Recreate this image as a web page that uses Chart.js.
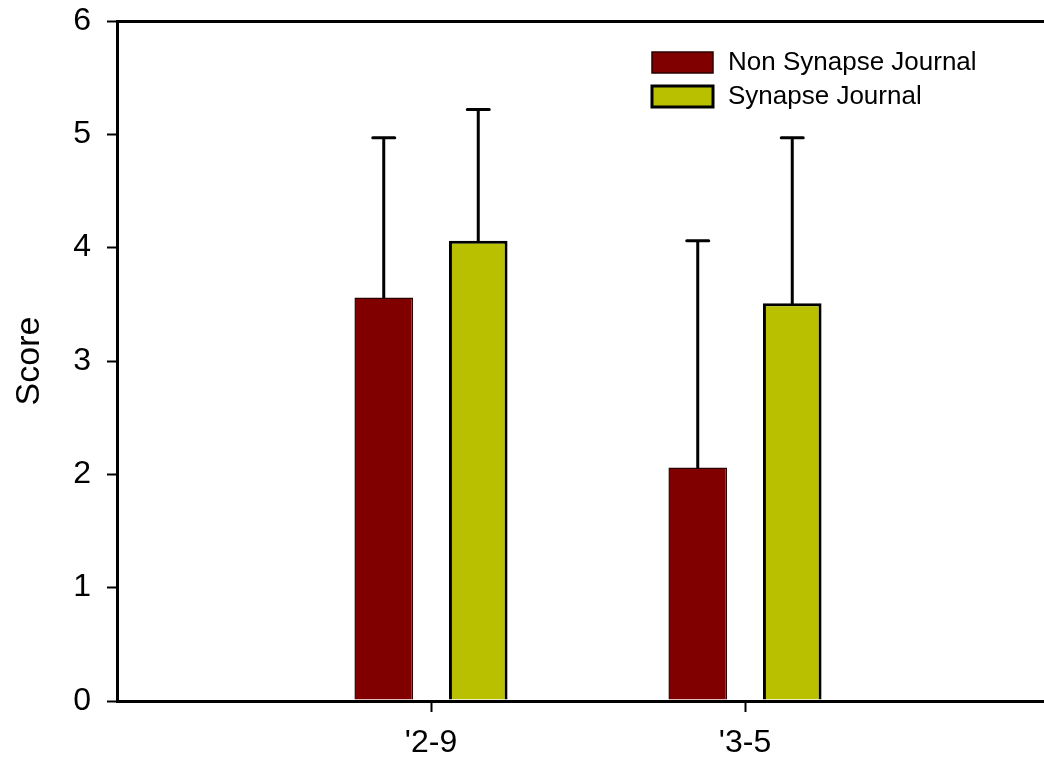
<!DOCTYPE html>
<html>
<head>
<meta charset="utf-8">
<script src="https://cdn.jsdelivr.net/npm/chart.js@4"></script>
<style>
    html, body { margin: 0; padding: 0; background: #fff; overflow: hidden; }
    #wrap { width: 1060px; height: 760px; position: relative; }
</style>
</head>
<body>
<div id="wrap"><canvas id="myChart"></canvas></div>
<script>
const categories = ["'2-9", "'3-5"];
const seriesNames = ['Non Synapse Journal', 'Synapse Journal'];
const nonSynapseMean = [3.56, 2.06];
const nonSynapseErr = [1.41, 2.00];
const synapseMean = [4.06, 3.51];
const synapseErr = [1.16, 1.46];
const yTicks = [0, 1, 2, 3, 4, 5, 6];

const FONT = '"Liberation Sans", Arial, sans-serif';

function toPoints(values) {
    return values.map((v, i) => ({ x: i + 1, y: v }));
}

// upward error bars with a cap, read from dataset.errors
const errorBarPlugin = {
    id: 'errorBars',
    afterDatasetsDraw(chart) {
        const ctx = chart.ctx;
        const yScale = chart.scales.y;
        ctx.save();
        ctx.strokeStyle = '#000';
        ctx.lineWidth = 3;
        ctx.lineCap = 'round';
        chart.data.datasets.forEach((dataset, di) => {
            const meta = chart.getDatasetMeta(di);
            meta.data.forEach((bar, i) => {
                const top = yScale.getPixelForValue(dataset.data[i].y + dataset.errors[i]);
                ctx.beginPath();
                ctx.moveTo(bar.x, bar.y);
                ctx.lineTo(bar.x, top);
                ctx.moveTo(bar.x - 11, top);
                ctx.lineTo(bar.x + 11, top);
                ctx.stroke();
            });
        });
        ctx.restore();
    }
};

// legend drawn inside the plot area, top right
const insideLegendPlugin = {
    id: 'insideLegend',
    afterDraw(chart) {
        const ctx = chart.ctx;
        const area = chart.chartArea;
        const x0 = area.left + 535;
        let y0 = area.top + 31;
        ctx.save();
        ctx.font = '26px ' + FONT;
        ctx.textBaseline = 'middle';
        chart.data.datasets.forEach(dataset => {
            ctx.fillStyle = dataset.backgroundColor;
            ctx.fillRect(x0, y0, 61, 21);
            ctx.strokeStyle = dataset.borderColor;
            ctx.lineWidth = dataset.borderWidth;
            ctx.strokeRect(x0, y0, 61, 21);
            ctx.fillStyle = '#000';
            ctx.fillText(dataset.label, x0 + 76, y0 + 11);
            y0 += 34;
        });
        ctx.restore();
    }
};

const ctx = document.getElementById('myChart').getContext('2d');
const chart = new Chart(ctx, {
    type: 'bar',
    data: {
        datasets: [
            {
                label: seriesNames[0],
                data: toPoints(nonSynapseMean),
                errors: nonSynapseErr,
                backgroundColor: '#800000',
                borderColor: '#2a0000',
                borderWidth: 1.5,
                borderSkipped: 'bottom'
            },
            {
                label: seriesNames[1],
                data: toPoints(synapseMean),
                errors: synapseErr,
                backgroundColor: '#b9c000',
                borderColor: '#000',
                borderWidth: 3,
                borderSkipped: 'bottom'
            }
        ]
    },
    options: {
        responsive: true,
        maintainAspectRatio: false,
        animation: false,
        categoryPercentage: 0.602,
        barPercentage: 0.62,
        layout: { padding: { top: 21, right: 1, left: 0, bottom: 0 } },
        plugins: {
            legend: { display: false },
            tooltip: { enabled: false }
        },
        scales: {
            x: {
                type: 'linear',
                min: 0,
                max: 3,
                offset: false,
                afterBuildTicks: scale => {
                    scale.ticks = categories.map((c, i) => ({ value: i + 1 }));
                },
                afterFit: scale => { scale.height = 59; },
                ticks: {
                    callback: value => categories[Math.round(value) - 1] || '',
                    color: '#000',
                    font: { family: FONT, size: 32 },
                    padding: 12,
                    maxRotation: 0
                },
                grid: {
                    offset: false,
                    drawOnChartArea: false,
                    tickLength: 11,
                    tickWidth: 2,
                    tickColor: '#000'
                },
                border: { color: '#000', width: 3 }
            },
            y: {
                min: 0,
                max: 6,
                afterBuildTicks: scale => {
                    scale.ticks = yTicks.map(v => ({ value: v }));
                },
                afterFit: scale => {
                    scale.width = 117;
                    scale.paddingTop = 0;
                    scale.paddingBottom = 0;
                },
                ticks: {
                    color: '#000',
                    font: { family: FONT, size: 32 },
                    padding: 16
                },
                grid: {
                    color: c => (c.tick && c.tick.value === 6 ? '#000' : 'rgba(0,0,0,0)'),
                    lineWidth: 3,
                    tickLength: 10,
                    tickWidth: 2,
                    tickColor: '#000'
                },
                border: { color: '#000', width: 3 },
                title: {
                    display: true,
                    text: 'Score',
                    color: '#000',
                    font: { family: FONT, size: 34 },
                    padding: { top: 9, bottom: 0 }
                }
            }
        }
    },
    plugins: [errorBarPlugin, insideLegendPlugin]
});
</script>
</body>
</html>
